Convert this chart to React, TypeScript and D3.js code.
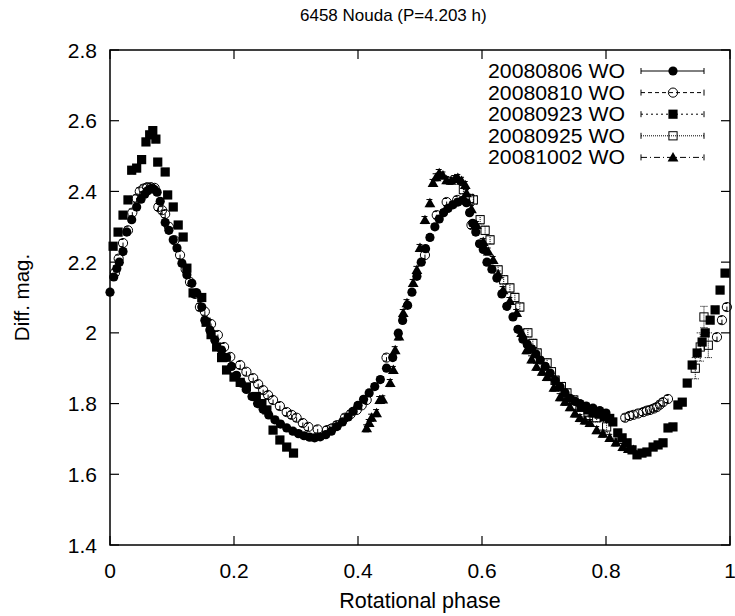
import React from "react";
import * as d3 from "d3";

const TITLE = "6458 Nouda (P=4.203 h)";
const X_LABEL = "Rotational phase";
const Y_LABEL = "Diff. mag.";
const X_TICKS = [0, 0.2, 0.4, 0.6, 0.8, 1];
const Y_TICKS = [1.4, 1.6, 1.8, 2.0, 2.2, 2.4, 2.6, 2.8];
const SERIES_NAMES = ["20080806 WO", "20080810 WO", "20080923 WO", "20080925 WO", "20081002 WO"];

// [phase, mag]
const S1: number[][] = [[0.000,2.115],[0.006,2.158],[0.011,2.182],[0.015,2.200],[0.021,2.230],[0.027,2.285],[0.035,2.320],[0.043,2.356],[0.050,2.378],[0.056,2.392],[0.061,2.402],[0.066,2.408],[0.071,2.406],[0.076,2.398],[0.081,2.372],[0.089,2.312],[0.095,2.290],[0.102,2.263],[0.108,2.240],[0.116,2.197],[0.124,2.164],[0.132,2.140],[0.140,2.113],[0.148,2.073],[0.153,2.036],[0.161,2.008],[0.169,1.980],[0.180,1.951],[0.188,1.930],[0.196,1.905],[0.204,1.880],[0.212,1.858],[0.220,1.840],[0.229,1.820],[0.238,1.800],[0.247,1.784],[0.256,1.768],[0.266,1.754],[0.275,1.742],[0.285,1.731],[0.295,1.722],[0.304,1.715],[0.313,1.709],[0.322,1.705],[0.330,1.703],[0.339,1.706],[0.348,1.712],[0.357,1.722],[0.366,1.735],[0.375,1.748],[0.384,1.762],[0.392,1.778],[0.400,1.795],[0.409,1.812],[0.418,1.830],[0.427,1.848],[0.436,1.868],[0.446,1.900],[0.456,1.930],[0.465,1.999],[0.472,2.035],[0.480,2.078],[0.487,2.115],[0.495,2.160],[0.502,2.200],[0.509,2.238],[0.516,2.270],[0.524,2.300],[0.531,2.322],[0.538,2.340],[0.545,2.352],[0.553,2.362],[0.561,2.370],[0.569,2.375],[0.575,2.368],[0.580,2.340],[0.585,2.310],[0.590,2.285],[0.596,2.252],[0.602,2.236],[0.608,2.200],[0.616,2.180],[0.624,2.155],[0.632,2.110],[0.640,2.075],[0.650,2.045],[0.658,2.010],[0.666,1.982],[0.673,1.968],[0.680,1.955],[0.687,1.940],[0.694,1.923],[0.702,1.905],[0.710,1.886],[0.718,1.865],[0.726,1.847],[0.734,1.830],[0.742,1.815],[0.750,1.806],[0.758,1.800],[0.768,1.793],[0.779,1.787],[0.790,1.780],[0.800,1.773]];
const S1_ERR = 0.008;

const S2: number[][] = [[0.008,2.170],[0.014,2.210],[0.021,2.254],[0.029,2.290],[0.036,2.340],[0.043,2.380],[0.048,2.400],[0.054,2.408],[0.060,2.412],[0.066,2.412],[0.072,2.410],[0.078,2.356],[0.084,2.347],[0.089,2.336],[0.095,2.300],[0.104,2.262],[0.113,2.220],[0.122,2.180],[0.129,2.144],[0.137,2.110],[0.145,2.073],[0.153,2.060],[0.163,2.025],[0.174,1.994],[0.184,1.960],[0.194,1.932],[0.210,1.909],[0.220,1.890],[0.231,1.872],[0.239,1.855],[0.247,1.838],[0.255,1.824],[0.263,1.810],[0.274,1.793],[0.285,1.776],[0.293,1.768],[0.301,1.760],[0.311,1.745],[0.320,1.734],[0.335,1.727],[0.350,1.725],[0.358,1.730],[0.366,1.739],[0.379,1.760],[0.388,1.770],[0.398,1.782],[0.406,1.795],[0.414,1.810],[0.446,1.930],[0.508,2.220],[0.527,2.333],[0.543,2.370],[0.560,2.376],[0.583,2.305],[0.831,1.760],[0.838,1.765],[0.844,1.768],[0.852,1.772],[0.860,1.776],[0.866,1.780],[0.871,1.782],[0.877,1.786],[0.882,1.790],[0.887,1.797],[0.892,1.804],[0.900,1.813],[0.979,1.988],[0.987,2.036],[0.995,2.073]];
const S2_ERR = 0.010;

const S3: number[][] = [[0.005,2.245],[0.013,2.285],[0.021,2.333],[0.029,2.376],[0.035,2.460],[0.043,2.466],[0.051,2.490],[0.058,2.540],[0.064,2.560],[0.069,2.572],[0.074,2.548],[0.077,2.483],[0.089,2.455],[0.093,2.390],[0.102,2.356],[0.110,2.305],[0.118,2.271],[0.124,2.183],[0.134,2.113],[0.148,2.100],[0.155,2.030],[0.163,1.995],[0.172,1.960],[0.180,1.930],[0.188,1.895],[0.200,1.875],[0.210,1.860],[0.220,1.847],[0.236,1.820],[0.245,1.800],[0.253,1.782],[0.263,1.725],[0.274,1.697],[0.285,1.677],[0.296,1.660],[0.760,1.790],[0.771,1.782],[0.779,1.773],[0.789,1.770],[0.797,1.762],[0.806,1.758],[0.811,1.748],[0.819,1.717],[0.826,1.703],[0.834,1.689],[0.842,1.669],[0.850,1.655],[0.858,1.660],[0.866,1.663],[0.876,1.677],[0.884,1.683],[0.892,1.689],[0.900,1.731],[0.908,1.734],[0.916,1.796],[0.923,1.804],[0.931,1.858],[0.939,1.909],[0.947,1.943],[0.955,1.974],[0.960,2.000],[0.968,2.036],[0.976,2.065],[0.984,2.121],[0.992,2.169]];
const S3_ERR = 0.010;

// [phase, mag, err]
const S4: number[][] = [[0.570,2.405,0.012],[0.580,2.380,0.012],[0.586,2.376,0.012],[0.597,2.320,0.012],[0.605,2.290,0.012],[0.613,2.263,0.012],[0.626,2.178,0.012],[0.635,2.150,0.012],[0.645,2.127,0.012],[0.653,2.100,0.012],[0.661,2.073,0.012],[0.674,2.000,0.012],[0.682,1.970,0.012],[0.689,1.943,0.012],[0.705,1.915,0.012],[0.712,1.890,0.012],[0.718,1.866,0.012],[0.728,1.848,0.012],[0.737,1.830,0.012],[0.748,1.810,0.012],[0.758,1.790,0.012],[0.771,1.776,0.012],[0.785,1.760,0.012],[0.801,1.734,0.015],[0.944,1.900,0.030],[0.952,1.960,0.040],[0.958,2.045,0.030],[0.965,1.965,0.035]];

const S5: number[][] = [[0.414,1.730],[0.418,1.745],[0.422,1.760],[0.430,1.773],[0.435,1.810],[0.440,1.812],[0.452,1.858],[0.457,1.895],[0.460,1.951],[0.466,1.990],[0.473,2.056],[0.479,2.084],[0.489,2.141],[0.495,2.178],[0.500,2.240],[0.508,2.319],[0.516,2.367],[0.521,2.424],[0.526,2.440],[0.531,2.452],[0.537,2.445],[0.543,2.432],[0.550,2.430],[0.556,2.435],[0.561,2.438],[0.567,2.430],[0.573,2.418],[0.575,2.395],[0.583,2.350],[0.591,2.305],[0.602,2.257],[0.610,2.230],[0.618,2.206],[0.626,2.165],[0.634,2.121],[0.645,2.090],[0.656,2.056],[0.664,2.000],[0.672,1.951],[0.680,1.925],[0.688,1.904],[0.697,1.890],[0.705,1.875],[0.716,1.845],[0.726,1.818],[0.734,1.805],[0.742,1.790],[0.750,1.772],[0.758,1.759],[0.766,1.752],[0.774,1.745],[0.785,1.725],[0.795,1.715],[0.806,1.703],[0.816,1.690],[0.827,1.677],[0.836,1.672],[0.844,1.669]];
const S5_ERR = 0.010;

const FONT = "'Liberation Sans', Arial, Helvetica, sans-serif";
const W = 735, H = 616;
const L = 110, R = 730, T = 50, B = 545;

type Sym = "fcircle" | "ocircle" | "fsquare" | "osquare" | "ftri";

function Marker({ sym, cx, cy }: { sym: Sym; cx: number; cy: number }) {
  const s = 4.6;
  if (sym === "fcircle") return <circle cx={cx} cy={cy} r={s} fill="#000" />;
  if (sym === "ocircle") return <circle cx={cx} cy={cy} r={s} fill="none" stroke="#000" strokeWidth={1} />;
  if (sym === "fsquare") return <rect x={cx - s} y={cy - s} width={2 * s} height={2 * s} fill="#000" />;
  if (sym === "osquare") return <rect x={cx - s + 0.5} y={cy - s + 0.5} width={2 * s - 1} height={2 * s - 1} fill="none" stroke="#000" strokeWidth={1} />;
  const h = 5.4;
  return <path d={`M${cx},${cy - h}L${cx + h},${cy + h * 0.75}L${cx - h},${cy + h * 0.75}Z`} fill="#000" />;
}

export default function App() {
  const x = d3.scaleLinear().domain([0, 1]).range([L, R]);
  const y = d3.scaleLinear().domain([1.4, 2.8]).range([B, T]);

  const series: { name: string; pts: number[][]; sym: Sym; dash: string }[] = [
    { name: SERIES_NAMES[0], pts: S1.map(p => [p[0], p[1], S1_ERR]), sym: "fcircle", dash: "none" },
    { name: SERIES_NAMES[1], pts: S2.map(p => [p[0], p[1], S2_ERR]), sym: "ocircle", dash: "4,3" },
    { name: SERIES_NAMES[2], pts: S3.map(p => [p[0], p[1], S3_ERR]), sym: "fsquare", dash: "2,3" },
    { name: SERIES_NAMES[3], pts: S4, sym: "osquare", dash: "1,1" },
    { name: SERIES_NAMES[4], pts: S5.map(p => [p[0], p[1], S5_ERR]), sym: "ftri", dash: "6,3,1,3" },
  ];

  const cap = 3.5;
  const tickLen = 9;
  const legendRowY = (i: number) => 71 + i * 21.6;

  return (
    <svg width={W} height={H} style={{ position: "absolute", left: 0, top: 0, background: "#fff" }} fontFamily={FONT}>
      <rect x={0} y={0} width={W} height={H} fill="#fff" />
      <text x={300} y={21} fontSize={17} textAnchor="start">{TITLE}</text>

      {/* ticks */}
      {Y_TICKS.map(t => (
        <g key={"y" + t}>
          <line x1={L} x2={L + tickLen} y1={y(t)} y2={y(t)} stroke="#000" strokeWidth={1.2} />
          <line x1={R} x2={R - tickLen} y1={y(t)} y2={y(t)} stroke="#000" strokeWidth={1.2} />
          <text x={97} y={y(t)} dy="0.36em" fontSize={21} textAnchor="end">{d3.format("")(+t.toFixed(1))}</text>
        </g>
      ))}
      {X_TICKS.map(t => (
        <g key={"x" + t}>
          <line x1={x(t)} x2={x(t)} y1={B} y2={B - tickLen} stroke="#000" strokeWidth={1.2} />
          <line x1={x(t)} x2={x(t)} y1={T} y2={T + tickLen} stroke="#000" strokeWidth={1.2} />
          <text x={x(t)} y={570} dy="0.36em" fontSize={21} textAnchor="middle">{String(t)}</text>
        </g>
      ))}

      {/* data */}
      {series.map((s, si) => (
        <g key={"s" + si}>
          {s.pts.map((p, i) => {
            const cx = x(p[0]), y1 = y(p[1] - p[2]), y2 = y(p[1] + p[2]);
            return (
              <g key={i} stroke="#000" strokeWidth={1} strokeDasharray={s.dash === "none" ? undefined : s.dash}>
                <line x1={cx} x2={cx} y1={y1} y2={y2} />
                <line x1={cx - cap} x2={cx + cap} y1={y1} y2={y1} />
                <line x1={cx - cap} x2={cx + cap} y1={y2} y2={y2} />
              </g>
            );
          })}
          {s.pts.map((p, i) => (
            <Marker key={"m" + i} sym={s.sym} cx={x(p[0])} cy={y(p[1])} />
          ))}
        </g>
      ))}

      {/* legend */}
      {series.map((s, i) => {
        const ly = legendRowY(i);
        return (
          <g key={"l" + i}>
            <text x={625} y={ly} dy="0.36em" fontSize={19.5} textAnchor="end" textLength={137} lengthAdjust="spacingAndGlyphs">{s.name}</text>
            <g stroke="#000" strokeWidth={1} strokeDasharray={s.dash === "none" ? undefined : s.dash}>
              <line x1={641} x2={704} y1={ly} y2={ly} />
            </g>
            <line x1={641} x2={641} y1={ly - 3} y2={ly + 3} stroke="#000" strokeWidth={1} />
            <line x1={704} x2={704} y1={ly - 3} y2={ly + 3} stroke="#000" strokeWidth={1} />
            <Marker sym={s.sym} cx={673} cy={ly} />
          </g>
        );
      })}

      {/* frame */}
      <rect x={L} y={T} width={R - L} height={B - T} fill="none" stroke="#000" strokeWidth={1.5} />

      <text x={(L + R) / 2} y={600} dy="0.36em" fontSize={21.5} textAnchor="middle">{X_LABEL}</text>
      <text transform={`translate(22,${(T + B) / 2}) rotate(-90)`} dy="0.36em" fontSize={20.5} textAnchor="middle">{Y_LABEL}</text>
    </svg>
  );
}
